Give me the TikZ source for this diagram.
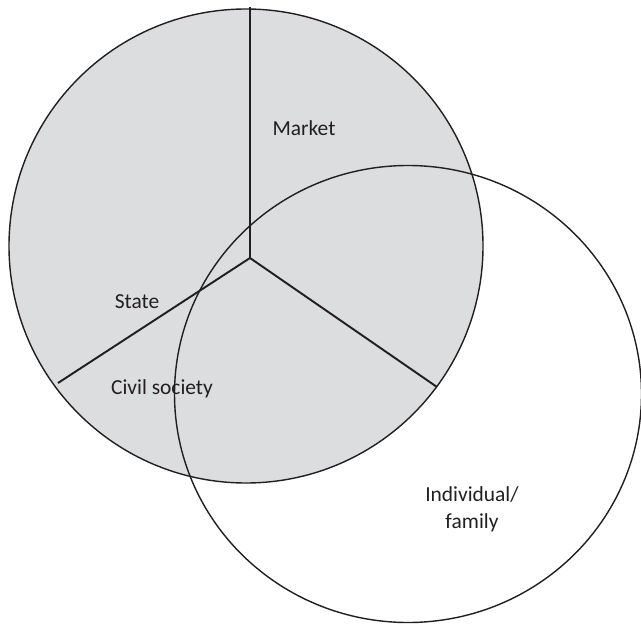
\documentclass[tikz,border=0pt]{standalone}
\usepackage{fontspec}
\setmainfont{Carlito}
\usepackage{xcolor}
\usepackage{tikz}
\usetikzlibrary{positioning}
\definecolor{sectorgray}{RGB}{220,221,223}
\definecolor{inkdark}{RGB}{35,31,32}
\tikzset{
  ring/.style={draw=inkdark, line width=0.8pt},
  divider/.style={draw=inkdark, line width=1.1pt},
  lbl/.style={font=\fontsize{12.2}{15.4}\selectfont, text=inkdark, align=center, inner sep=0pt}
}
\begin{document}
\begin{tikzpicture}[x=0.02cm, y=-0.02cm]
    \useasboundingbox (0,0) rectangle (641,624);
    % the three sectors
    \fill[sectorgray] (246,246) circle [radius=237];
    \coordinate (hub) at (250,258);
    \coordinate (top) at (250,7);
    \coordinate (left) at (58,383);
    \coordinate (right) at (437,387);
    \draw[divider] (hub) -- (top);
    \draw[divider] (hub) -- (left);
    \draw[divider] (hub) -- (right);
    \draw[ring] (246,246) circle [radius=237];
    % household sphere
    \draw[ring] (408,394) circle [x radius=233.5, y radius=228.5];
    \node[lbl] (market) at (304,128) {Market};
    \node[lbl] (state) at (137,302) {State};
    \node[lbl] (civil) at (162,389) {Civil society};
    \node[lbl] (family) at (472,509) {Individual/\\ family};
  \end{tikzpicture}
\end{document}
